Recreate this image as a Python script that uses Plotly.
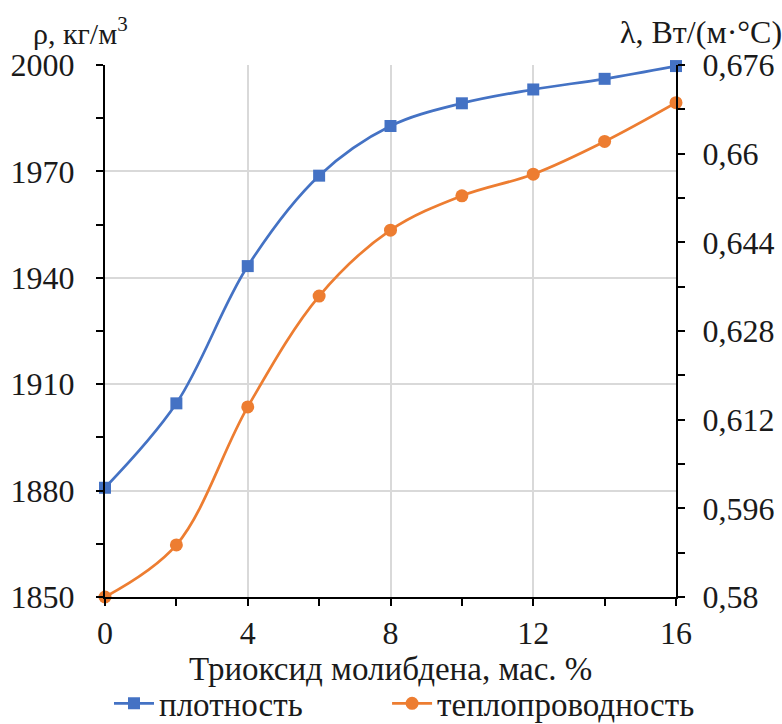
import plotly.graph_objects as go

x_pct = [0, 2, 4, 6, 8, 10, 12, 14, 16]
density = [1880.8, 1904.6, 1943.3, 1968.8, 1982.8, 1989.2, 1993.1, 1996.1, 1999.7]
conductivity = [0.580, 0.5894, 0.6143, 0.6343, 0.6462, 0.6524, 0.6563, 0.6622, 0.6692]

left_ticks = [1850, 1880, 1910, 1940, 1970, 2000]
right_ticks = [0.58, 0.596, 0.612, 0.628, 0.644, 0.66, 0.676]
right_tick_text = ["0,58", "0,596", "0,612", "0,628", "0,644", "0,66", "0,676"]
x_ticks = [0, 4, 8, 12, 16]

FONT = "Liberation Serif, Times New Roman, DejaVu Serif, serif"
FS = 32
FS_BIG = 33
TXT = "#1a1a1a"
BLUE = "#4472C4"
ORANGE = "#ED7D31"

fig = go.Figure()
fig.add_trace(go.Scatter(
    x=x_pct, y=density, name="плотность", mode="lines+markers",
    line=dict(color=BLUE, width=2.7, shape="spline", smoothing=1),
    marker=dict(symbol="square", size=12, color=BLUE),
    cliponaxis=False, yaxis="y", legend="legend"))
fig.add_trace(go.Scatter(
    x=x_pct, y=conductivity, name="теплопроводность", mode="lines+markers",
    line=dict(color=ORANGE, width=2.7, shape="spline", smoothing=1),
    marker=dict(symbol="circle", size=13, color=ORANGE),
    cliponaxis=False, yaxis="y2", legend="legend2"))

axis_common = dict(
    showline=True, linecolor="black", linewidth=2,
    ticks="outside", ticklen=7, tickwidth=2, tickcolor="black",
    tickfont=dict(family=FONT, size=FS, color=TXT), zeroline=False,
    automargin=False,
)

leg_common = dict(orientation="h", xanchor="left", y=-0.2, yanchor="middle",
                  font=dict(family=FONT, size=FS_BIG, color=TXT), itemwidth=40,
                  bgcolor="rgba(0,0,0,0)")

fig.update_layout(
    width=782, height=724,
    margin=dict(l=105, r=106, t=65, b=127, autoexpand=False),
    paper_bgcolor="white", plot_bgcolor="white",
    font=dict(family=FONT, size=FS, color=TXT),
    showlegend=True,
    legend=dict(x=0.007, **leg_common),
    legend2=dict(x=0.494, **leg_common),
    xaxis=dict(range=[0, 16], tickvals=x_ticks, showgrid=True, gridcolor="#d9d9d9", gridwidth=1.5,
               ticklabelstandoff=0,
               minor=dict(dtick=2, ticks="outside", ticklen=7, tickwidth=2, tickcolor="black", showgrid=False),
               **axis_common),
    yaxis=dict(range=[1850, 2000], tickvals=left_ticks, showgrid=True, gridcolor="#d9d9d9", gridwidth=1.5,
               ticklabelstandoff=15,
               minor=dict(dtick=15, tick0=1850, ticks="outside", ticklen=7, tickwidth=2, tickcolor="black", showgrid=False),
               **axis_common),
    yaxis2=dict(range=[0.58, 0.676], overlaying="y", side="right", tickvals=right_ticks,
                ticktext=right_tick_text, showgrid=False, ticklabelstandoff=11,
                minor=dict(dtick=0.008, tick0=0.58, ticks="outside", ticklen=7, tickwidth=2, tickcolor="black", showgrid=False),
                **axis_common),
    annotations=[
        dict(text="ρ, кг/м<sup>3</sup>", xref="paper", yref="paper", x=-0.13, y=1.0,
             xanchor="left", yanchor="bottom", yshift=13, showarrow=False,
             font=dict(family=FONT, size=30, color=TXT)),
        dict(text="λ, Вт/(м·°С)", xref="paper", yref="paper", x=1.19, y=1.0,
             xanchor="right", yanchor="bottom", yshift=13, showarrow=False,
             font=dict(family=FONT, size=FS, color=TXT)),
        dict(text="Триоксид молибдена, мас. %", xref="paper", yref="paper", x=0.5, y=-0.1355,
             xanchor="center", yanchor="middle", showarrow=False,
             font=dict(family=FONT, size=FS_BIG, color=TXT)),
    ],
)

fig.write_html("out.html")
